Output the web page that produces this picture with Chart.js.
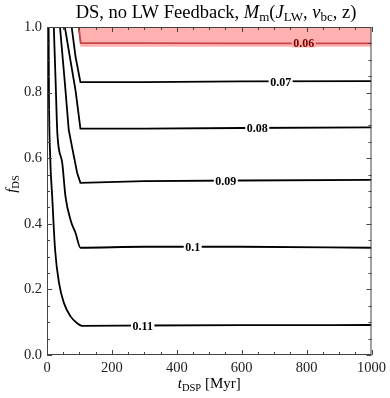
<!DOCTYPE html>
<html>
<head>
<meta charset="utf-8">
<script src="https://cdn.jsdelivr.net/npm/chart.js@4.4.1/dist/chart.umd.min.js"></script>
<style>
  html, body { margin: 0; padding: 0; background: #fff; }
  #wrap { width: 390px; height: 398px; }
</style>
</head>
<body>
<div id="wrap"><canvas id="c" width="390" height="398"></canvas></div>
<script>
// contour levels
const levels = ['0.06', '0.07', '0.08', '0.09', '0.1', '0.11'];

// each contour: t_DSP (Myr) and f_DS
const t006 = [98, 104, 300, 600, 1000];
const f006 = [1.0, 0.951, 0.951, 0.950, 0.950];
const t007 = [76, 88, 103, 300, 600, 1000];
const f007 = [1.0, 0.909, 0.832, 0.832, 0.834, 0.835];
const t008 = [55, 72, 88, 103, 300, 600, 1000];
const f008 = [1.0, 0.90, 0.806, 0.690, 0.690, 0.692, 0.694];
const t009 = [40, 55, 67, 83, 93, 103, 300, 600, 1000];
const f009 = [1.0, 0.83, 0.686, 0.605, 0.555, 0.525, 0.530, 0.532, 0.534];
const t010 = [21, 27, 32, 47, 57, 73, 88, 103, 300, 600, 1000];
const f010 = [1.0, 0.82, 0.674, 0.585, 0.483, 0.41, 0.372, 0.327, 0.330, 0.330, 0.327];
const t011 = [5, 6, 10, 16, 25, 37, 52, 73, 93, 108, 300, 600, 1000];
const f011 = [1.0, 0.80, 0.60, 0.483, 0.32, 0.22, 0.159, 0.117, 0.097, 0.089, 0.090, 0.091, 0.0915];

// shaded band above the 0.06 contour
const tBand = [96, 103, 1000];
const fBand = [1.0, 0.94, 0.94];

// where the contour labels sit
const labelT = [791, 720, 648, 551, 449, 295];
const labelF = [0.950, 0.834, 0.692, 0.532, 0.330, 0.090];

// axis ticks
const xTicks = [0, 200, 400, 600, 800, 1000];
const yTicks = [0, 0.2, 0.4, 0.6, 0.8, 1.0];
const xMinorStep = 50;
const yMinorStep = 0.05;

const serif = '"Liberation Serif", "DejaVu Serif", serif';

function pts(ts, fs) {
    return ts.map((t, i) => ({ x: t, y: fs[i] }));
}

const contourT = [t006, t007, t008, t009, t010, t011];
const contourF = [f006, f007, f008, f009, f010, f011];

const datasets = [{
    data: pts(tBand, fBand),
    borderWidth: 0,
    pointRadius: 0,
    backgroundColor: 'rgba(255,120,120,0.58)',
    fill: 'end',
    showLine: true
}];
contourT.forEach((ts, i) => {
    datasets.push({
        data: pts(ts, contourF[i]),
        borderColor: i === 0 ? '#7a0000' : '#000',
        borderWidth: 1.8,
        pointRadius: 0,
        fill: false,
        showLine: true,
        cubicInterpolationMode: i >= 4 ? 'monotone' : 'default',
        tension: 0
    });
});

// draw a run of text pieces (for subscripts / italics)
function drawRich(ctx, parts, x, y) {
    let w = 0;
    parts.forEach(p => { ctx.font = p.font; w += ctx.measureText(p.text).width; });
    let cx = x - w / 2;
    parts.forEach(p => {
        ctx.font = p.font;
        ctx.fillText(p.text, cx, y + (p.dy || 0));
        cx += ctx.measureText(p.text).width;
    });
}

const decorPlugin = {
    id: 'decor',
    afterDatasetsDraw(chart) {
        const ctx = chart.ctx;
        const xs = chart.scales.x, ys = chart.scales.y;
        const a = chart.chartArea;
        ctx.save();

        // contour labels
        ctx.font = 'bold 12px ' + serif;
        ctx.textAlign = 'center';
        ctx.textBaseline = 'middle';
        levels.forEach((lv, i) => {
            const px = xs.getPixelForValue(labelT[i]);
            const py = ys.getPixelForValue(labelF[i]);
            const w = ctx.measureText(lv).width + 3;
            ctx.fillStyle = i === 0 ? 'rgb(255,172,172)' : '#fff';
            ctx.fillRect(px - w / 2, py - 4, w, 8);
            ctx.fillStyle = i === 0 ? '#7a0000' : '#000';
            ctx.fillText(lv, px, py + 1);
        });

        // frame
        ctx.strokeStyle = '#444';
        ctx.lineWidth = 1;
        ctx.strokeRect(a.left + 0.5, a.top + 0.5, a.right - a.left - 1, a.bottom - a.top - 1);

        // inward ticks on all four sides
        ctx.beginPath();
        for (let v = 0; v <= 1000 + 1e-6; v += xMinorStep) {
            const major = xTicks.some(t => Math.abs(t - v) < 1e-6);
            const len = major ? 5 : 3;
            const px = Math.round(xs.getPixelForValue(v)) + 0.5;
            ctx.moveTo(px, a.bottom); ctx.lineTo(px, a.bottom - len);
            ctx.moveTo(px, a.top); ctx.lineTo(px, a.top + len);
        }
        for (let v = 0; v <= 1.0 + 1e-6; v += yMinorStep) {
            const major = yTicks.some(t => Math.abs(t - v) < 1e-6);
            const len = major ? 5 : 3;
            const py = Math.round(ys.getPixelForValue(v)) + 0.5;
            ctx.moveTo(a.left, py); ctx.lineTo(a.left + len, py);
            ctx.moveTo(a.right, py); ctx.lineTo(a.right - len, py);
        }
        ctx.stroke();

        // title and axis titles
        ctx.fillStyle = '#000';
        ctx.textAlign = 'left';
        ctx.textBaseline = 'alphabetic';
        const big = '18.5px ' + serif, bigI = 'italic 18.5px ' + serif, sub = '13px ' + serif;
        drawRich(ctx, [
            { text: 'DS, no LW Feedback, ', font: big },
            { text: 'M', font: bigI },
            { text: 'm', font: sub, dy: 3 },
            { text: '(', font: big },
            { text: 'J', font: bigI },
            { text: 'LW', font: sub, dy: 3 },
            { text: ', ', font: big },
            { text: 'v', font: bigI },
            { text: 'bc', font: sub, dy: 3 },
            { text: ', z)', font: big }
        ], 216, 18);

        const mid = '15px ' + serif, midI = 'italic 15px ' + serif, small = '10.5px ' + serif;
        drawRich(ctx, [
            { text: 't', font: midI },
            { text: 'DSP', font: small, dy: 3 },
            { text: ' [Myr]', font: mid }
        ], (a.left + a.right) / 2, 388);

        ctx.translate(16, 184);
        ctx.rotate(-Math.PI / 2);
        drawRich(ctx, [
            { text: 'f', font: midI },
            { text: 'DS', font: small, dy: 3 }
        ], 0, 0);
        ctx.restore();
    }
};

new Chart(document.getElementById('c'), {
    type: 'scatter',
    data: { datasets },
    plugins: [decorPlugin],
    options: {
        responsive: false,
        animation: false,
        layout: { padding: { left: 0, right: 16, top: 27, bottom: 0 } },
        plugins: { legend: { display: false }, tooltip: { enabled: false } },
        scales: {
            x: {
                type: 'linear', min: 0, max: 1000,
                grid: { display: false, drawTicks: false },
                border: { display: false },
                afterFit(s) { s.height = 43; },
                afterBuildTicks(s) { s.ticks = xTicks.map(v => ({ value: v })); },
                ticks: {
                    padding: 4, color: '#222', maxRotation: 0,
                    font: { family: serif, size: 14.5 },
                    callback: v => String(v)
                }
            },
            y: {
                type: 'linear', min: 0, max: 1,
                grid: { display: false, drawTicks: false },
                border: { display: false },
                afterFit(s) { s.width = 47; },
                afterBuildTicks(s) { s.ticks = yTicks.map(v => ({ value: v })); },
                ticks: {
                    padding: 5, color: '#222',
                    font: { family: serif, size: 14.5 },
                    callback: v => v.toFixed(1)
                }
            }
        }
    }
});
</script>
</body>
</html>
